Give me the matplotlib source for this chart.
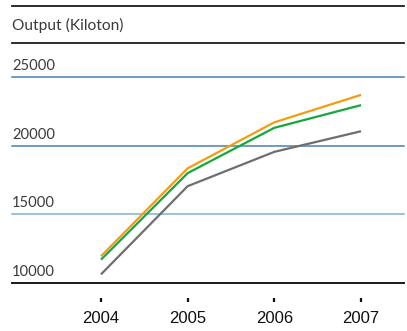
import matplotlib
matplotlib.use("Agg")
import matplotlib.pyplot as plt
from matplotlib.lines import Line2D
from matplotlib.transforms import blended_transform_factory

years = [2004, 2005, 2006, 2007]
orange_vals = [11950, 18350, 21700, 23700]
green_vals = [11700, 18000, 21300, 22950]
gray_vals = [10630, 17050, 19550, 21050]
ytick_vals = [10000, 15000, 20000, 25000]
ytick_labels = ["10000", "15000", "20000", "25000"]
title_text = "Output (Kiloton)"

W, H = 407, 331
fig = plt.figure(figsize=(W / 100, H / 100), dpi=100)
fig.patch.set_facecolor("white")

def fx(px):
    return px / W

def fy(py):
    return 1 - py / H

left, right = 12, 404
top, bottom = 77, 283
ax = fig.add_axes([fx(left), fy(bottom), (right - left) / W, (bottom - top) / H])
ax.set_facecolor("none")

ppy = 86.7
ax.set_xlim(2004 - (101 - left) / ppy, 2007 + (right - 361) / ppy)
ax.set_ylim(10000, 25000)

grid_colors = {10000: "#1a1a1a", 15000: "#7fb0d3", 20000: "#4a7fae", 25000: "#4a7fae"}
for v in ytick_vals:
    ax.axhline(v, color=grid_colors[v], lw=1.1 if v != 10000 else 1.4, zorder=1, clip_on=False)

trans = blended_transform_factory(ax.transAxes, ax.transData)
for v, lab in zip(ytick_vals, ytick_labels):
    ax.text(0.0, v + 300, lab, transform=trans, ha="left", va="bottom",
            fontsize=10.6, family="Lato", color="#3a3a3a", fontweight="normal")

ax.plot(years, gray_vals, color="#6e6e6e", lw=1.6, zorder=3, solid_capstyle="butt")
ax.plot(years, green_vals, color="#14a83b", lw=1.6, zorder=4, solid_capstyle="butt")
ax.plot(years, orange_vals, color="#f39c12", lw=1.6, zorder=5, solid_capstyle="butt")

for s in ["top", "left", "right"]:
    ax.spines[s].set_visible(False)
ax.spines["bottom"].set_position(("outward", 11))
ax.spines["bottom"].set_visible(False)
ax.set_yticks([])
ax.set_xticks(years)
ax.set_xticklabels([str(y) for y in years], fontsize=12, family="Liberation Sans", color="#111111")
ax.tick_params(axis="x", direction="out", length=3, width=1.6, color="#111111", pad=6)

fig.add_artist(Line2D([fx(left), fx(right)], [fy(6), fy(6)], color="#1a1a1a", lw=1.3))
fig.add_artist(Line2D([fx(left), fx(right)], [fy(43), fy(43)], color="#1a1a1a", lw=1.3))
fig.text(fx(left), fy(25), title_text, ha="left", va="center", fontsize=11.2,
         family="Lato", color="#3a3a3a", fontweight="normal")

fig.savefig("out.png", dpi=100, facecolor="white")
